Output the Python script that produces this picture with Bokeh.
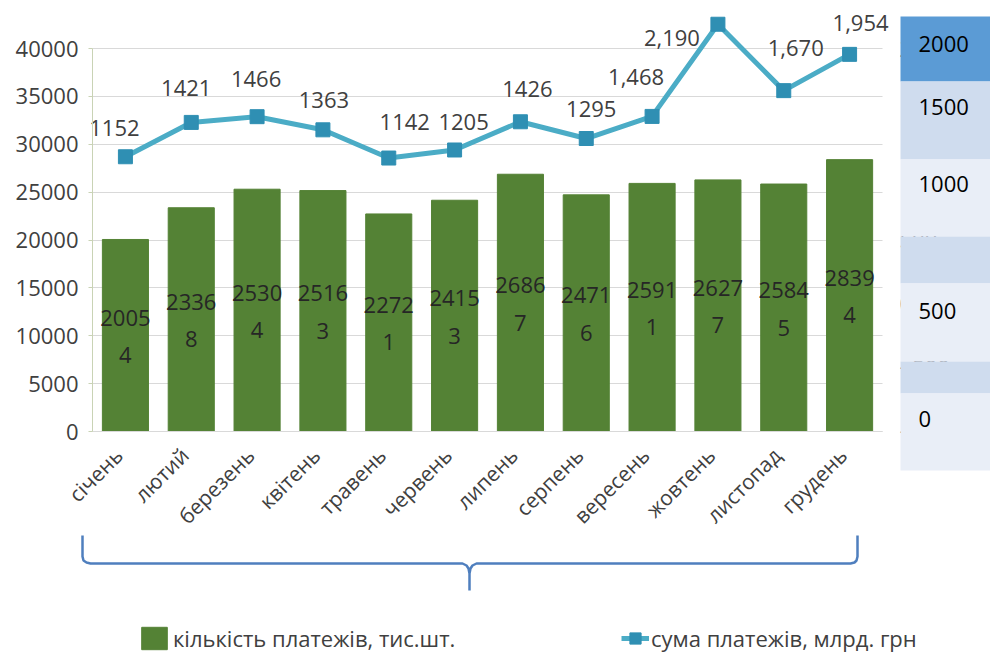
import math
from bokeh.plotting import figure
from bokeh.models import (ColumnDataSource, Range1d, LinearAxis, FixedTicker, Grid,
                          BoxAnnotation, Label, PolyAnnotation, Legend, LegendItem)
from bokeh.core.properties import value
from bokeh.embed import file_html
from bokeh.resources import INLINE

# ---------------- data ----------------
months = ["січень", "лютий", "березень", "квітень", "травень", "червень",
          "липень", "серпень", "вересень", "жовтень", "листопад", "грудень"]
payments_count = [20054, 23368, 25304, 25163, 22721, 24153,
                  26867, 24716, 25911, 26277, 25845, 28394]
payments_sum = [1152, 1421, 1466, 1363, 1142, 1205,
                1426, 1295, 1468, 2190, 1670, 1954]
sum_with_separator = [False, False, False, False, False, False,
                      False, False, True, True, True, True]
left_ticks = [0, 5000, 10000, 15000, 20000, 25000, 30000, 35000, 40000]
right_ticks = [-1000, -500, 0, 500, 1000, 1500, 2000]
table_labels = ["2000", "1500", "1000", "", "500", "", "0"]
count_name = "кількість платежів, тис.шт."
sum_name = "сума платежів, млрд. грн"

# ---------------- styles / layout ----------------
FONT = "Open Sans"
BAR_COLOR = "#548235"
LINE_COLOR = "#4BACC6"
MARKER_COLOR = "#2F8FB3"
TEXT_COLOR = "#404040"
W, H = 990, 654
# pixel offsets of the line's data labels (x right, y down)
sum_label_dx = [-11, -5, -1, 1, 16, 9, 7, 5, -16, -46, 12, 11]
sum_label_dy = [-29, -34, -38, -30, -36, -28, -33, -30, -39, 14, -43, -31]

N = len(months)
PLOT_L, PLOT_R, PLOT_B, PLOT_T = 92, 882, 431, 48   # pixel box of the chart area
CAT_PX = (PLOT_R - PLOT_L) / N


def xd(px):            # pixel -> category coordinate
    return (px - PLOT_L) / CAT_PX


def yd(py):            # pixel -> left-axis value
    return (PLOT_B - py) * left_ticks[-1] / (PLOT_B - PLOT_T)


def yr(py):            # pixel -> right-axis value
    span = right_ticks[-1] - right_ticks[0]
    return right_ticks[0] + (PLOT_B - py) * span / (PLOT_B - PLOT_T)


centers = [i + 0.5 for i in range(N)]
label_ticks = [i + 0.4 for i in range(N)]     # rotated labels end slightly left of centre
count_text = [f"{str(v)[:4]}\n{str(v)[4:]}" for v in payments_count]
sum_text = [f"{v:,}" if sep else str(v) for v, sep in zip(payments_sum, sum_with_separator)]

src = ColumnDataSource(dict(
    x=centers,
    count=payments_count,
    mid=[v / 2 for v in payments_count],
    ctext=count_text,
    total=payments_sum,
    stext=sum_text,
    dx=sum_label_dx,
    dy=sum_label_dy,
))

p = figure(width=W, height=H,
           x_range=Range1d(xd(0), xd(W)),
           y_range=Range1d(yd(H), yd(0)),
           output_backend="svg", toolbar_location=None,
           min_border=0, min_border_left=0, min_border_right=0,
           min_border_top=0, min_border_bottom=0)
p.extra_y_ranges = {"sum": Range1d(yr(H), yr(0))}
p.title.visible = False
p.outline_line_color = None
p.background_fill_color = "white"

# grid
p.xgrid.visible = False
if "cross_bounds" in Grid.properties():
    p.ygrid.ticker = FixedTicker(ticks=left_ticks)
    p.ygrid.grid_line_color = "#D9D9D9"
    p.ygrid.cross_bounds = (0, N)
else:
    p.ygrid.visible = False
    p.segment(x0=[0] * len(left_ticks), x1=[N] * len(left_ticks), y0=left_ticks,
              y1=left_ticks, line_color="#D9D9D9", line_width=1, level="underlay")

# left axis
ya = p.yaxis[0]
ya.fixed_location = 0
ya.bounds = (0, left_ticks[-1])
ya.ticker = FixedTicker(ticks=left_ticks)
ya.axis_line_color = "#C9D3B5"
ya.major_tick_line_color = "#C9D3B5"
ya.major_tick_out = 4
ya.major_tick_in = 0
ya.minor_tick_line_color = None
ya.major_label_standoff = 10
ya.major_label_text_font = FONT
ya.major_label_text_font_size = "22px"
ya.major_label_text_color = TEXT_COLOR

# bottom axis
xa = p.xaxis[0]
xa.fixed_location = 0
xa.bounds = (0, N)
xa.ticker = FixedTicker(ticks=label_ticks)
xa.major_label_overrides = {t: m for t, m in zip(label_ticks, months)}
xa.major_label_orientation = math.pi / 4
xa.major_tick_line_color = None
xa.minor_tick_line_color = None
xa.axis_line_color = "#D9D9D9"
xa.major_label_standoff = 14
xa.major_label_text_font = FONT
xa.major_label_text_font_size = "21px"
xa.major_label_text_color = TEXT_COLOR

# right axis
right_axis = LinearAxis(y_range_name="sum", ticker=FixedTicker(ticks=right_ticks),
                        fixed_location=N, bounds=(right_ticks[0], right_ticks[-1]),
                        axis_line_color=None, major_tick_line_color=None,
                        minor_tick_line_color=None, major_label_standoff=11,
                        major_label_text_font=FONT, major_label_text_font_size="22px",
                        major_label_text_color=TEXT_COLOR)
p.add_layout(right_axis, "right")

# bars
r_bar = p.vbar(x="x", top="count", width=0.7, source=src,
               fill_color=BAR_COLOR, line_color=BAR_COLOR)
p.text(x="x", y="mid", text="ctext", source=src,
       text_align="center", text_baseline="middle",
       text_font=value(FONT), text_font_size="22px", text_line_height=1.25,
       text_color="#262626")

# line
r_line = p.line(x="x", y="total", y_range_name="sum", source=src,
                line_width=5, line_color=LINE_COLOR)
r_mark = p.scatter(x="x", y="total", y_range_name="sum", source=src,
                   marker="square", size=14, fill_color=MARKER_COLOR,
                   line_color=MARKER_COLOR)
p.text(x="x", y="total", text="stext", y_range_name="sum", source=src,
       x_offset="dx", y_offset="dy", text_align="center", text_baseline="middle",
       text_font=value(FONT), text_font_size="22px", text_color=TEXT_COLOR)

# overlaid table on the right
rows = [(16, 81, "#5B9BD5"), (81, 159, "#CFDCEE"), (159, 236, "#E9EEF7"),
        (236, 283, "#CFDCEE"), (283, 361, "#E9EEF7"), (361, 393, "#CFDCEE"),
        (393, 470, "#E9EEF7")]
for (top, bottom, color) in rows:
    p.add_layout(BoxAnnotation(left=xd(900), right=xd(W + 20), top=yd(top), bottom=yd(bottom),
                               fill_color=color, fill_alpha=1.0, line_color=None))
table_y = [43, 106, 183, 0, 310, 0, 418]
for txt, ty in zip(table_labels, table_y):
    if txt:
        p.add_layout(Label(x=xd(918), y=yd(ty), text=txt,
                           text_baseline="middle", text_align="left",
                           text_font=FONT, text_font_size="22px", text_color="black"))

# bracket under the category labels
half = [(82, 535), (82, 556), (83, 560), (86, 562), (90, 563), (462, 563), (466, 565),
        (468, 568), (469, 573), (469, 590)]
other = [(469, 573), (470, 568), (472, 565), (476, 563), (850, 563), (854, 562),
         (856, 560), (857, 556), (857, 535)]
path = half + other
full = path + path[-2::-1]
p.add_layout(PolyAnnotation(xs=[xd(a) for a, b in full], ys=[yd(b) for a, b in full],
                            fill_color=None, fill_alpha=0, line_color="#4F7FBE",
                            line_alpha=1.0, line_width=2.5))

# legends
leg1 = Legend(items=[LegendItem(label=count_name, renderers=[r_bar])],
              location=(138, 1), margin=0, padding=0,
              glyph_width=32, glyph_height=28, label_standoff=3,
              label_text_font=FONT, label_text_font_size="22px",
              label_text_color=TEXT_COLOR, border_line_color=None,
              background_fill_alpha=0)
leg2 = Legend(items=[LegendItem(label=sum_name, renderers=[r_line, r_mark])],
              location=(621, 1), margin=0, padding=0,
              glyph_width=28, glyph_height=28, label_standoff=2,
              label_text_font=FONT, label_text_font_size="22px",
              label_text_color=TEXT_COLOR, border_line_color=None,
              background_fill_alpha=0)
p.add_layout(leg1)
p.add_layout(leg2)

open("out.html", "w").write(file_html(p, INLINE))
